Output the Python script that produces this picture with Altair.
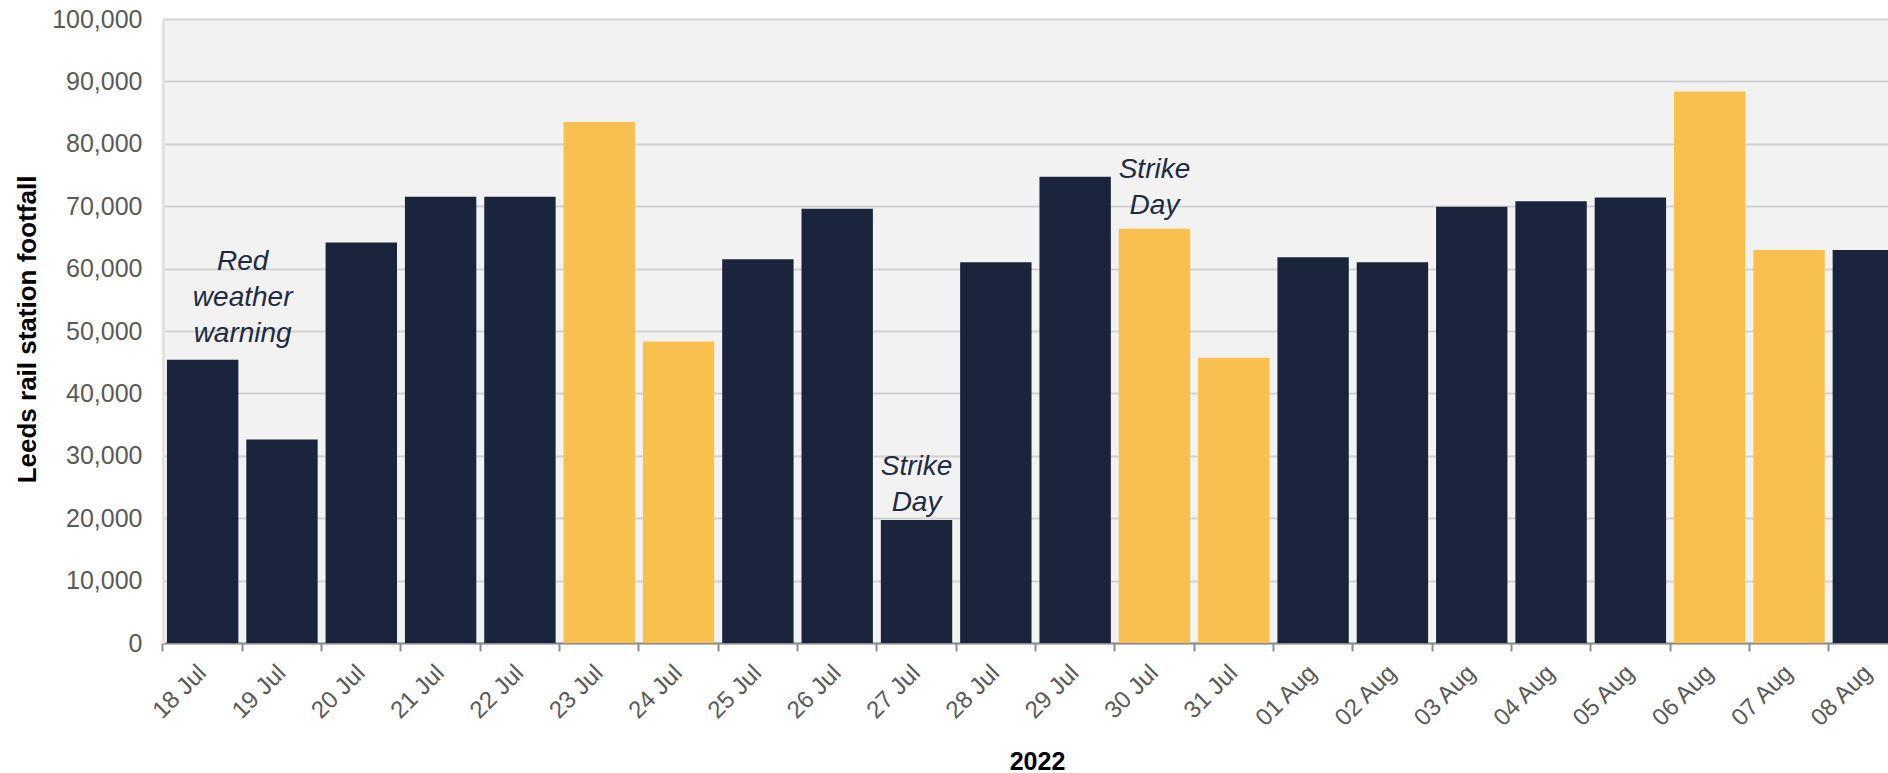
import altair as alt
import pandas as pd

dates = ["18 Jul", "19 Jul", "20 Jul", "21 Jul", "22 Jul", "23 Jul", "24 Jul",
         "25 Jul", "26 Jul", "27 Jul", "28 Jul", "29 Jul", "30 Jul", "31 Jul",
         "01 Aug", "02 Aug", "03 Aug", "04 Aug", "05 Aug", "06 Aug", "07 Aug", "08 Aug"]
footfall = [45400, 32600, 64200, 71500, 71500, 83500, 48300,
            61500, 69600, 19700, 61000, 74700, 66400, 45700,
            61800, 61000, 69900, 70800, 71400, 88400, 63000, 63000]
day_type = ["Weekday"] * 5 + ["Weekend"] * 2 + ["Weekday"] * 5 + ["Weekend"] * 2 + \
           ["Weekday"] * 5 + ["Weekend"] * 2 + ["Weekday"]

note_dates = ["18 Jul", "27 Jul", "30 Jul"]
note_values = [61100, 28200, 75800]
note_texts = [["Red", "weather", "warning"], ["Strike", "Day"], ["Strike", "Day"]]
note_dx = [40, 0, 0]

y_ticks = list(range(0, 100001, 10000))

df = pd.DataFrame({"date": dates, "footfall": footfall, "type": day_type})
notes = pd.DataFrame({"date": note_dates, "y": note_values, "label": note_texts, "dx": note_dx})

FONT = "Liberation Sans"
NAVY = "#1a253d"
YELLOW = "#f9c04f"

x_scale = alt.Scale(domain=dates, paddingInner=0.1, paddingOuter=0.05, range=[0, 1745])
y_scale = alt.Scale(domain=[0, 100000], nice=False)

x_axis = alt.Axis(title="2022", labelAngle=-45, labelFontSize=24, labelColor="#595959",
                  labelFont=FONT, labelPadding=18, domainColor="#8c8c8c", domainWidth=2,
                  tickColor="#8c8c8c", tickWidth=2, tickSize=8, bandPosition=-0.0556,
                  labelAlign="right", labelBaseline="middle",
                  grid=False, titleFont=FONT, titleFontSize=25, titleFontWeight="bold",
                  titleColor="#000000", titleX=874, titleY=118, titleBaseline="middle",
                  titleAlign="center")
y_axis = alt.Axis(title="Leeds rail station footfall", values=y_ticks, format=",.0f",
                  labelFontSize=25, labelColor="#595959", labelFont=FONT, tickSize=0,
                  labelPadding=21, domainColor="#e6e2da", domainWidth=3,
                  gridColor="#d2d2d2", gridWidth=2, titleFont=FONT, titleFontSize=26,
                  titleFontWeight="bold", titleColor="#000000", titleX=-136, titleY=310,
                  titleAlign="center", titleBaseline="middle", titleAngle=-90)

bars = alt.Chart(df).mark_bar(clip=True).encode(
    x=alt.X("date:N", scale=x_scale, sort=dates, axis=x_axis),
    y=alt.Y("footfall:Q", scale=y_scale, axis=y_axis),
    color=alt.Color("type:N", scale=alt.Scale(domain=["Weekday", "Weekend"], range=[NAVY, YELLOW]),
                    legend=None),
)

text = alt.layer(*[
    alt.Chart(notes[notes["date"] == d]).mark_text(
        font=FONT, fontSize=28, fontStyle="italic", color="#1f2a44", lineHeight=36,
        align="center", baseline="middle", dx=int(dx)
    ).encode(
        x=alt.X("date:N", scale=x_scale, sort=dates, axis=x_axis),
        y=alt.Y("y:Q", scale=y_scale, axis=y_axis),
        text="label",
    )
    for d, dx in zip(note_dates, note_dx)
])

chart = alt.layer(bars, text).properties(
    width=1725, height=624,
    autosize=alt.AutoSizeParams(type="none"),
    padding={"left": 163, "top": 19, "right": 0, "bottom": 130},
    background="white",
).configure_view(fill="#f2f2f2", stroke=None)

chart.save("out.html", embed_options={"renderer": "svg", "actions": False})
